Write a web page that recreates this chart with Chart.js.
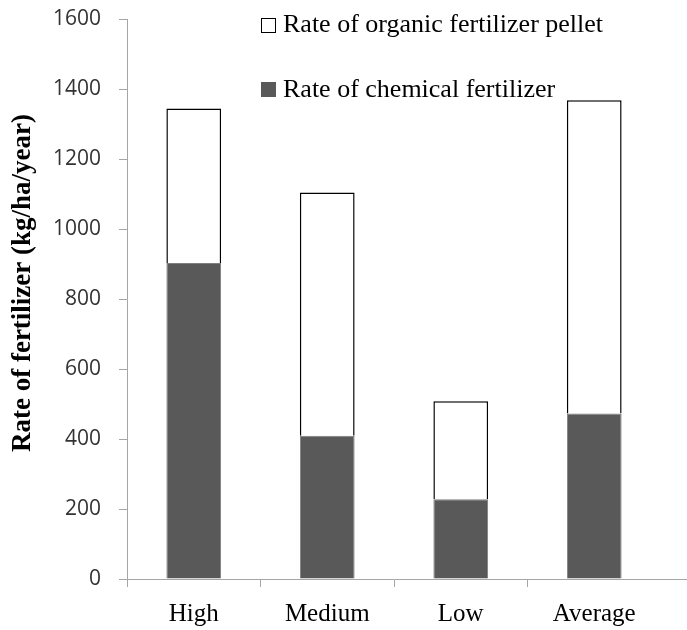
<!DOCTYPE html>
<html>
<head>
<meta charset="utf-8">
<script src="https://cdn.jsdelivr.net/npm/chart.js@4"></script>
<style>
  html, body { margin: 0; padding: 0; background: #fff; }
  #wrap { position: relative; width: 687px; height: 630px; }
  #legend { position: absolute; left: 0; top: 0; font-family: "Liberation Serif", serif; font-size: 26px; color: #000; }
  .txt { position: absolute; left: 283px; white-space: nowrap; height: 30px; line-height: 30px; }
  .box { position: absolute; left: 261px; width: 15px; height: 15px; box-sizing: border-box; }
</style>
</head>
<body>
<div id="wrap">
  <canvas id="c" width="687" height="630"></canvas>
  <div id="legend"></div>
</div>
<script>
const categories = ["High", "Medium", "Low", "Average"];
const chemical = [903, 409, 228, 473];
const organic = [441, 695, 280, 895];   // stacked on top of chemical
const yTicks = [0, 200, 400, 600, 800, 1000, 1200, 1400, 1600];
const seriesNames = ["Rate of chemical fertilizer", "Rate of organic fertilizer pellet"];
const yTitle = "Rate of fertilizer (kg/ha/year)";

const extras = {
  id: 'extras',
  afterDraw(chart) {
    const ctx = chart.ctx, a = chart.chartArea;
    const y = chart.scales.y.getPixelForValue(0);
    ctx.save();
    ctx.strokeStyle = '#a6a6a6';
    ctx.lineWidth = 1;
    ctx.beginPath();
    ctx.moveTo(a.right, y + 0.5);
    ctx.lineTo(chart.width, y + 0.5);
    ctx.stroke();
    // y-axis title
    ctx.translate(23, 283);
    ctx.rotate(-Math.PI / 2);
    ctx.font = 'bold 27px "Liberation Serif"';
    ctx.fillStyle = '#000';
    ctx.textAlign = 'center';
    ctx.textBaseline = 'middle';
    ctx.fillText(yTitle, 0, 0);
    ctx.restore();
  }
};

const chart = new Chart(document.getElementById('c'), {
  type: 'bar',
  data: {
    labels: categories,
    datasets: [
      { label: seriesNames[0], data: chemical, backgroundColor: '#595959', borderColor: '#7f7f7f', borderWidth: 1, barPercentage: 0.41, categoryPercentage: 1 },
      { label: seriesNames[1], data: organic, backgroundColor: '#ffffff', borderColor: '#000000', borderWidth: 1.5, barPercentage: 0.41, categoryPercentage: 1 }
    ]
  },
  options: {
    responsive: false,
    animation: false,
    layout: { padding: { top: 19, right: 26, left: 0, bottom: 0 } },
    plugins: { legend: { display: false }, tooltip: { enabled: false } },
    scales: {
      x: {
        stacked: true,
        offset: true,
        grid: { display: true, drawOnChartArea: false, offset: true, tickLength: 8, color: c => (c.type === 'tick' ? '#a6a6a6' : 'rgba(0,0,0,0)') },
        border: { color: '#a6a6a6', width: 1 },
        ticks: { color: '#000', padding: 12, font: { family: 'Liberation Serif', size: 25 } },
        afterFit(s) { s.height = 51; s.paddingLeft = 0; s.paddingRight = 0; }
      },
      y: {
        stacked: true,
        min: 0, max: 1600,
        afterBuildTicks(s) { s.ticks = yTicks.map(v => ({ value: v })); },
        grid: { display: true, drawOnChartArea: false, tickLength: 8, color: '#a6a6a6' },
        border: { color: '#a6a6a6', width: 1 },
        ticks: { color: '#333', padding: 18, font: { family: 'Open Sans', size: 21 }, callback: v => String(v) },
        title: { display: false },
        afterFit(s) { s.width = 127; s.paddingTop = 0; s.paddingBottom = 0; }
      }
    }
  },
  plugins: [extras]
});

// HTML legend (organic listed first, as in the reference)
const legend = document.getElementById('legend');
const rows = [
  { di: 1, boxTop: 18, textTop: 9 },
  { di: 0, boxTop: 82, textTop: 74 }
];
rows.forEach(r => {
  const ds = chart.data.datasets[r.di];
  const box = document.createElement('span');
  box.className = 'box';
  box.style.top = r.boxTop + 'px';
  box.style.background = ds.backgroundColor;
  box.style.border = r.di === 1 ? '1.5px solid #000' : '1px solid #595959';
  legend.appendChild(box);
  const t = document.createElement('span');
  t.className = 'txt';
  t.style.top = r.textTop + 'px';
  t.textContent = ds.label;
  legend.appendChild(t);
});
</script>
</body>
</html>
